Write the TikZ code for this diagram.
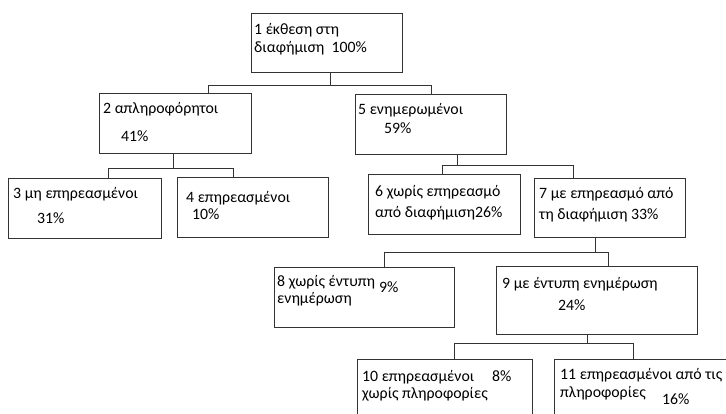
\documentclass[tikz,border=0pt]{standalone}
\usepackage{fontspec}
\setmainfont{Carlito}
\usepackage{tikz}

\tikzset{
  box/.style={draw=black!80, line width=1.1pt, anchor=north west, inner sep=0pt},
  txt/.style={anchor=base west, inner sep=0pt, text=black, font=\fontsize{15.8}{18}\selectfont},
  link/.style={draw=black!80, line width=1pt}
}

\begin{document}
\begin{tikzpicture}[x=1pt,y=-1pt]
\fill[white] (0,0) rectangle (726,414);
\clip (0,0) rectangle (726,414);
% boxes
\node[box, minimum width=151pt, minimum height=59pt] (b1) at (251,13) {};
\node[box, minimum width=152pt, minimum height=60pt] (b2) at (99,93) {};
\node[box, minimum width=153pt, minimum height=60pt] (b3) at (8,178) {};
\node[box, minimum width=151pt, minimum height=60pt] (b4) at (177,177) {};
\node[box, minimum width=151pt, minimum height=60pt] (b5) at (355,94) {};
\node[box, minimum width=152pt, minimum height=60pt] (b6) at (368,174) {};
\node[box, minimum width=151pt, minimum height=59pt] (b7) at (534,178) {};
\node[box, minimum width=180pt, minimum height=60pt] (b8) at (274,267) {};
\node[box, minimum width=201pt, minimum height=68pt] (b9) at (496,266) {};
\node[box, minimum width=175pt, minimum height=70pt] (b10) at (357,359) {};
\node[box, minimum width=180pt, minimum height=70pt] (b11) at (554,359) {};
% texts
\node[txt] (t1a) at (254,35) {1 έκθεση στη};
\node[txt] (t1b) at (254,53) {διαφήμιση \ 100\%};
\node[txt] (t2a) at (103,114) {2 απληροφόρητοι};
\node[txt] (t2b) at (121,142) {41\%};
\node[txt] (t3a) at (13,199) {3 μη επηρεασμένοι};
\node[txt] (t3b) at (37,224) {31\%};
\node[txt] (t4a) at (186,203) {4 επηρεασμένοι};
\node[txt] (t4b) at (192,220) {10\%};
\node[txt] (t5a) at (358,115) {5 ενημερωμένοι};
\node[txt] (t5b) at (384,134) {59\%};
\node[txt] (t6a) at (375,196.5) {6 χωρίς επηρεασμό};
\node[txt] (t6b) at (375,217.5) {από διαφήμιση26\%};
\node[txt] (t7a) at (539,199) {7 με επηρεασμό από};
\node[txt] (t7b) at (539,220) {τη διαφήμιση 33\%};
\node[txt] (t8a) at (277,287) {8 χωρίς έντυπη};
\node[txt] (t8b) at (379,293) {9\%};
\node[txt] (t8c) at (277,304) {ενημέρωση};
\node[txt] (t9a) at (502,289) {9 με έντυπη ενημέρωση};
\node[txt] (t9b) at (558,310) {24\%};
\node[txt] (t10a) at (362,381.5) {10 επηρεασμένοι};
\node[txt] (t10b) at (492,381.5) {8\%};
\node[txt] (t10c) at (362,398) {χωρίς πληροφορίες};
\node[txt] (t11a) at (560,379) {11 επηρεασμένοι από τις};
\node[txt] (t11b) at (560,397) {πληροφορίες};
\node[txt] (t11c) at (662,404) {16\%};
% links
\draw[link] ([xshift=3.5pt]b1.south) -- ++(0,12) coordinate (f1)
  -| ([xshift=33pt]b2.north) (f1) -| (b5.north);
\draw[link] ([xshift=-2pt]b2.south) -- ++(0,14) coordinate (f2)
  -| ([xshift=23.5pt]b3.north) (f2) -| ([xshift=-19.5pt]b4.north);
\draw[link] ([xshift=26.5pt]b5.south) -- ++(0,10) coordinate (f5)
  -| ([xshift=-2pt]b6.north) (f5) -| ([xshift=-36.5pt]b7.north);
\draw[link] ([xshift=-14.5pt]b7.south) -- ++(0,14) coordinate (f7)
  -| ([xshift=20pt]b8.north) (f7) -| ([xshift=11.5pt]b9.north);
\draw[link] ([xshift=-9.5pt]b9.south) -- ++(0,8) coordinate (f9)
  -| ([xshift=9.5pt]b10.north) (f9) -| ([xshift=-11pt]b11.north);
\end{tikzpicture}
\end{document}
